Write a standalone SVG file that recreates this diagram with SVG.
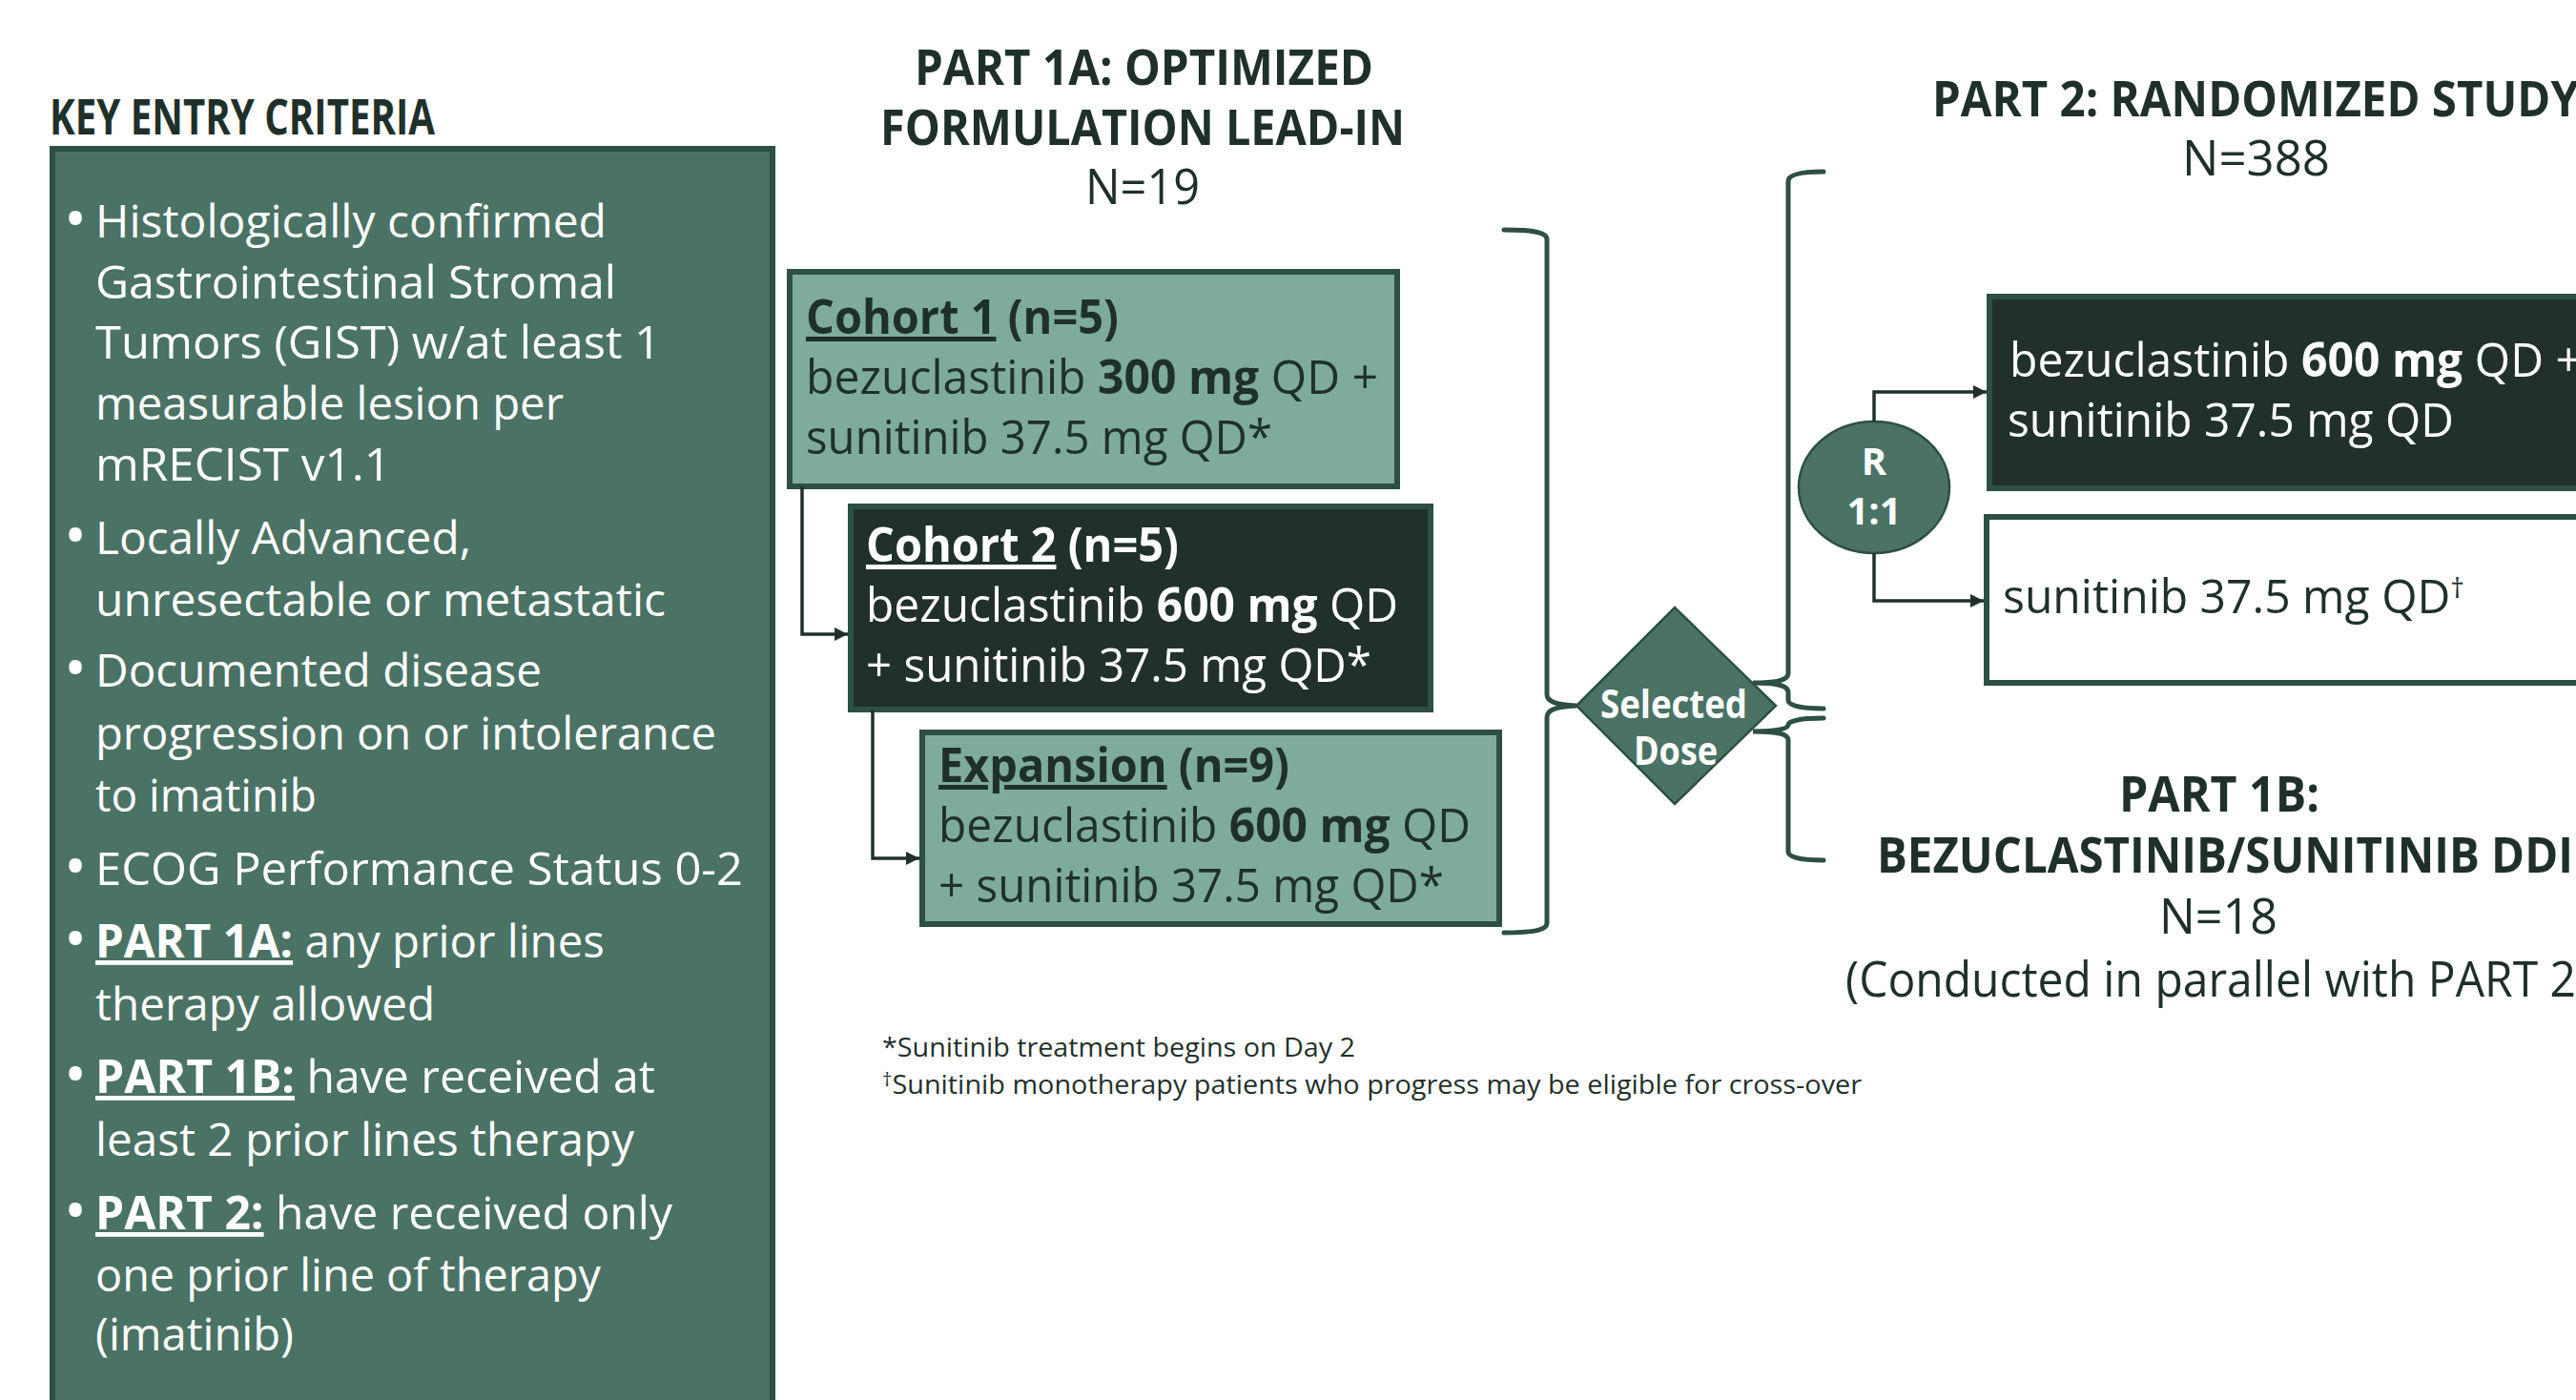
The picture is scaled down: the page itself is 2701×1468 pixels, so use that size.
<svg xmlns="http://www.w3.org/2000/svg" width="2701" height="1468" viewBox="0 0 2701 1468">
<style>
text{font-family:"Open Sans","Noto Sans","Liberation Sans",sans-serif;}
.hd{font-weight:700;fill:#1f302a;font-size:52px;}
.hdn{fill:#1f302a;font-size:52px;}
.lp{fill:#ffffff;font-size:48px;}
.bul{font-size:64px;}
.bx{font-size:50px;}
.dk{fill:#1f302a;}
.wt{fill:#ffffff;}
.b{font-weight:700;}
.u{text-decoration:underline;}
.fn{fill:#1f302a;font-size:28px;}
.brace{fill:none;stroke:#2d4f44;stroke-width:5;stroke-linecap:round;}
.conn{fill:none;stroke:#21302a;stroke-width:3.5;}
</style>
<defs>
<marker id="arr" viewBox="0 0 10 10" refX="10" refY="5" markerWidth="14" markerHeight="15" markerUnits="userSpaceOnUse" orient="auto"><path d="M0,0 L10,5 L0,10 z" fill="#21302a"/></marker>
</defs>
<rect width="2701" height="1468" fill="#ffffff"/>

<g id="key-entry-criteria">
<text class="hd" x="52" y="141" font-size="43" textLength="404" lengthAdjust="spacingAndGlyphs">KEY ENTRY CRITERIA</text>
<rect x="55" y="156" width="755" height="1340" fill="#4a7265" stroke="#2d4f44" stroke-width="6"/>
<g class="lp">
<text class="bul" x="67" y="252">•</text>
<text class="bul" x="67" y="584">•</text>
<text class="bul" x="67" y="723">•</text>
<text class="bul" x="67" y="931">•</text>
<text class="bul" x="67" y="1007">•</text>
<text class="bul" x="67" y="1149">•</text>
<text class="bul" x="67" y="1292">•</text>
<text x="100" y="249" textLength="536" lengthAdjust="spacingAndGlyphs">Histologically confirmed</text>
<text x="100" y="313" textLength="546" lengthAdjust="spacingAndGlyphs">Gastrointestinal Stromal</text>
<text x="100" y="376" textLength="593" lengthAdjust="spacingAndGlyphs">Tumors (GIST) w/at least 1</text>
<text x="100" y="440" textLength="491" lengthAdjust="spacingAndGlyphs">measurable lesion per</text>
<text x="100" y="504" textLength="310" lengthAdjust="spacingAndGlyphs">mRECIST v1.1</text>
<text x="100" y="581" textLength="394" lengthAdjust="spacingAndGlyphs">Locally Advanced,</text>
<text x="100" y="646" textLength="598" lengthAdjust="spacingAndGlyphs">unresectable or metastatic</text>
<text x="100" y="720" textLength="468" lengthAdjust="spacingAndGlyphs">Documented disease</text>
<text x="100" y="786" textLength="651" lengthAdjust="spacingAndGlyphs">progression on or intolerance</text>
<text x="100" y="851" textLength="232" lengthAdjust="spacingAndGlyphs">to imatinib</text>
<text x="100" y="928" textLength="679" lengthAdjust="spacingAndGlyphs">ECOG Performance Status 0-2</text>
<text x="100" y="1004" textLength="534" lengthAdjust="spacingAndGlyphs"><tspan class="b u">PART 1A:</tspan> any prior lines</text>
<text x="100" y="1070" textLength="356" lengthAdjust="spacingAndGlyphs">therapy allowed</text>
<text x="100" y="1146" textLength="587" lengthAdjust="spacingAndGlyphs"><tspan class="b u">PART 1B:</tspan> have received at</text>
<text x="100" y="1212" textLength="565" lengthAdjust="spacingAndGlyphs">least 2 prior lines therapy</text>
<text x="100" y="1289" textLength="605" lengthAdjust="spacingAndGlyphs"><tspan class="b u">PART 2:</tspan> have received only</text>
<text x="100" y="1354" textLength="530" lengthAdjust="spacingAndGlyphs">one prior line of therapy</text>
<text x="100" y="1416" textLength="208" lengthAdjust="spacingAndGlyphs">(imatinib)</text>
</g>
</g>

<g id="part1a-header">
<text class="hd" x="959" y="89" textLength="481" lengthAdjust="spacingAndGlyphs">PART 1A: OPTIMIZED</text>
<text class="hd" x="923" y="152" textLength="550" lengthAdjust="spacingAndGlyphs">FORMULATION LEAD-IN</text>
<text class="hdn" x="1138" y="214" textLength="120" lengthAdjust="spacingAndGlyphs">N=19</text>
</g>

<g id="cohort1">
<rect x="828" y="285" width="637" height="225" fill="#7eab9c" stroke="#2d4f44" stroke-width="6"/>
<g class="bx dk">
<text x="845" y="350" textLength="328" lengthAdjust="spacingAndGlyphs"><tspan class="b u">Cohort 1</tspan><tspan class="b"> (n=5)</tspan></text>
<text x="845" y="413" textLength="600" lengthAdjust="spacingAndGlyphs">bezuclastinib <tspan class="b">300 mg</tspan> QD +</text>
<text x="845" y="476" textLength="489" lengthAdjust="spacingAndGlyphs">sunitinib 37.5 mg QD*</text>
</g>
</g>

<g id="cohort2">
<rect x="892" y="531" width="608" height="213" fill="#21302a" stroke="#2d4f44" stroke-width="6"/>
<g class="bx wt">
<text x="908" y="589" textLength="328" lengthAdjust="spacingAndGlyphs"><tspan class="b u">Cohort 2</tspan><tspan class="b"> (n=5)</tspan></text>
<text x="908" y="652" textLength="558" lengthAdjust="spacingAndGlyphs">bezuclastinib <tspan class="b">600 mg</tspan> QD</text>
<text x="908" y="715" textLength="530" lengthAdjust="spacingAndGlyphs">+ sunitinib 37.5 mg QD*</text>
</g>
</g>

<g id="expansion">
<rect x="967" y="768" width="605" height="201" fill="#7eab9c" stroke="#2d4f44" stroke-width="6"/>
<g class="bx dk">
<text x="984" y="820" textLength="368" lengthAdjust="spacingAndGlyphs"><tspan class="b u">Expansion</tspan><tspan class="b"> (n=9)</tspan></text>
<text x="984" y="883" textLength="558" lengthAdjust="spacingAndGlyphs">bezuclastinib <tspan class="b">600 mg</tspan> QD</text>
<text x="984" y="946" textLength="530" lengthAdjust="spacingAndGlyphs">+ sunitinib 37.5 mg QD*</text>
</g>
</g>

<g id="selected-dose">
<polygon points="1653,740 1756,637 1862,740 1756,843" fill="#4a7265" stroke="#2d4f44" stroke-width="2.5"/>
<text class="wt b" x="1678" y="753" font-size="42" textLength="154" lengthAdjust="spacingAndGlyphs">Selected</text>
<text class="wt b" x="1713" y="802" font-size="42" textLength="88" lengthAdjust="spacingAndGlyphs">Dose</text>
</g>

<g id="randomization">
<ellipse cx="1965" cy="511" rx="79" ry="69" fill="#4a7265" stroke="#2d4f44" stroke-width="2.5"/>
<text class="wt b" x="1965" y="498" font-size="40" text-anchor="middle">R</text>
<text class="wt b" x="1965" y="550" font-size="40" text-anchor="middle">1:1</text>
</g>

<g id="part2-header">
<text class="hd" x="2026" y="122" textLength="678" lengthAdjust="spacingAndGlyphs">PART 2: RANDOMIZED STUDY</text>
<text class="hdn" x="2288" y="184" textLength="155" lengthAdjust="spacingAndGlyphs">N=388</text>
</g>

<g id="arm-combination">
<rect x="2086" y="311" width="700" height="201" fill="#21302a" stroke="#2d4f44" stroke-width="6"/>
<g class="bx wt">
<text x="2107" y="395" textLength="600" lengthAdjust="spacingAndGlyphs">bezuclastinib <tspan class="b">600 mg</tspan> QD +</text>
<text x="2105" y="458" textLength="468" lengthAdjust="spacingAndGlyphs">sunitinib 37.5 mg QD</text>
</g>
</g>

<g id="arm-sunitinib">
<rect x="2083" y="542" width="700" height="174" fill="#ffffff" stroke="#2d4f44" stroke-width="6"/>
<text class="bx dk" x="2100" y="643" textLength="484" lengthAdjust="spacingAndGlyphs">sunitinib 37.5 mg QD<tspan font-size="30" dy="-16">†</tspan></text>
</g>

<g id="part1b">
<text class="hd" x="2222" y="851" textLength="210" lengthAdjust="spacingAndGlyphs">PART 1B:</text>
<text class="hd" x="1968" y="915" textLength="730" lengthAdjust="spacingAndGlyphs">BEZUCLASTINIB/SUNITINIB DDI</text>
<text class="hdn" x="2264" y="979" textLength="124" lengthAdjust="spacingAndGlyphs">N=18</text>
<text class="hdn" x="1935" y="1045" textLength="766" lengthAdjust="spacingAndGlyphs">(Conducted in parallel with PART 2</text>
</g>

<g id="footnotes">
<text class="fn" x="925" y="1108" textLength="496" lengthAdjust="spacingAndGlyphs">*Sunitinib treatment begins on Day 2</text>
<text class="fn" x="925" y="1147" textLength="1027" lengthAdjust="spacingAndGlyphs"><tspan font-size="20" dy="-8">†</tspan><tspan dy="8">Sunitinib monotherapy patients who progress may be eligible for cross-over</tspan></text>
</g>

<g id="connectors">
<path class="conn" d="M841,510 L841,665 L889,665" marker-end="url(#arr)"/>
<path class="conn" d="M915,744 L915,900 L964,900" marker-end="url(#arr)"/>
<path class="conn" d="M1965,442 L1965,411 L2083,411" marker-end="url(#arr)"/>
<path class="conn" d="M1965,580 L1965,630 L2080,630" marker-end="url(#arr)"/>
<path class="brace" d="M1577,241 C1610,241 1622,244 1622,251 L1622,728 C1622,736 1632,739 1653,740 C1632,741 1622,744 1622,752 L1622,968 C1622,975 1610,978 1577,978"/>
<path class="brace" d="M1912,180 C1888,180 1875,183 1875,190 L1875,706 C1875,713 1865,716 1838,716 C1865,716 1875,719 1875,726 L1875,734 C1875,740 1888,743 1912,743"/>
<path class="brace" d="M1912,753 C1888,753 1875,756 1875,760 C1875,764 1865,767 1838,767 C1865,767 1875,770 1875,776 L1875,893 C1875,899 1888,902 1912,902"/>
</g>
</svg>
